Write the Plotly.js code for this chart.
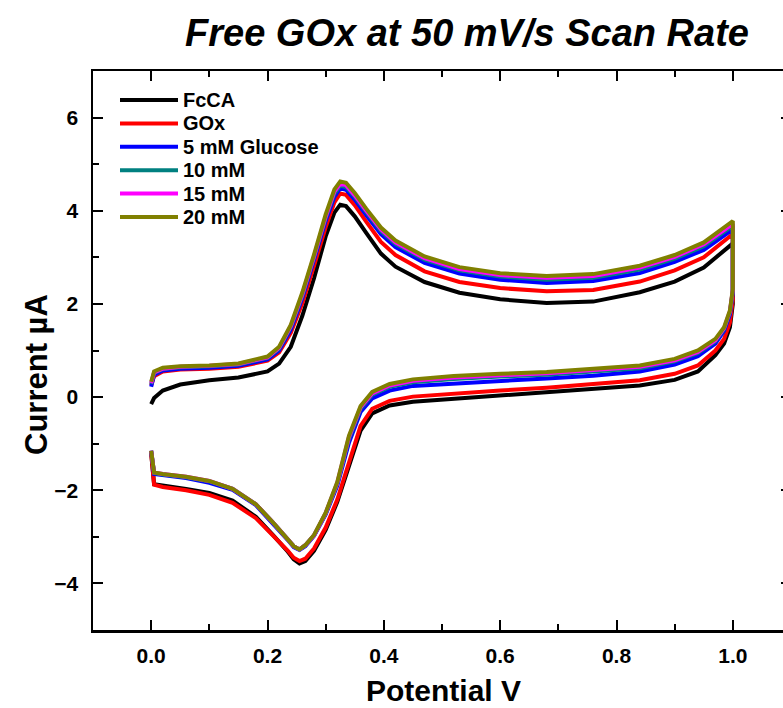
<!DOCTYPE html>
<html>
<head>
<meta charset="utf-8">
<script src="https://cdn.plot.ly/plotly-3.0.1.min.js"></script>
<style>
  html, body { margin: 0; padding: 0; overflow: hidden; background: #fff; }
  #chart { width: 800px; height: 708px; }
</style>
</head>
<body>
<div id="chart"></div>
<script>
// Cyclic voltammograms: forward sweep 0 -> 1.0 V, then reverse sweep 1.0 -> 0 V
const forwardPotential = [0, 0.005, 0.02, 0.05, 0.1, 0.15, 0.2, 0.22, 0.24, 0.26, 0.28, 0.3, 0.315, 0.325,
  0.335, 0.35, 0.37, 0.395, 0.42, 0.47, 0.53, 0.6, 0.68, 0.76, 0.84, 0.9, 0.95, 1.0];
const reversePotential = [1.0, 0.995, 0.985, 0.97, 0.94, 0.9, 0.84, 0.76, 0.68, 0.6, 0.52, 0.45, 0.41, 0.38,
  0.36, 0.34, 0.32, 0.3, 0.28, 0.265, 0.255, 0.245, 0.235, 0.21, 0.18, 0.14, 0.1, 0.06, 0.02, 0.005, 0];

const seriesNames = ['FcCA', 'GOx', '5 mM Glucose', '10 mM', '15 mM', '20 mM'];
const seriesColors = ['#000000', '#ff0000', '#0000ff', '#008080', '#ff00ff', '#808000'];

// Current (µA) on the forward sweep
const fcaForward = [-0.15, -0.02, 0.14, 0.27, 0.36, 0.42, 0.55, 0.72, 1.08, 1.75, 2.55, 3.45, 3.96, 4.13,
  4.1, 3.88, 3.52, 3.08, 2.8, 2.47, 2.24, 2.1, 2.02, 2.05, 2.25, 2.48, 2.78, 3.3];
const goxForward = [0.25, 0.45, 0.55, 0.59, 0.61, 0.65, 0.78, 0.96, 1.38, 2.02, 2.82, 3.65, 4.18, 4.37,
  4.34, 4.12, 3.76, 3.33, 3.05, 2.7, 2.47, 2.34, 2.27, 2.3, 2.48, 2.72, 3.0, 3.5];
const glc5Forward = [0.22, 0.48, 0.57, 0.61, 0.63, 0.67, 0.81, 1.0, 1.45, 2.13, 2.95, 3.78, 4.3, 4.48,
  4.45, 4.24, 3.9, 3.5, 3.22, 2.88, 2.65, 2.52, 2.45, 2.49, 2.66, 2.9, 3.16, 3.6];
const glc10Forward = [0.28, 0.52, 0.6, 0.64, 0.66, 0.7, 0.84, 1.04, 1.5, 2.18, 3.0, 3.84, 4.37, 4.54,
  4.51, 4.3, 3.97, 3.57, 3.29, 2.95, 2.72, 2.59, 2.52, 2.56, 2.74, 2.97, 3.24, 3.68];
const glc15Forward = [0.3, 0.53, 0.61, 0.65, 0.67, 0.71, 0.85, 1.06, 1.52, 2.21, 3.02, 3.87, 4.41, 4.58,
  4.55, 4.33, 4.0, 3.6, 3.32, 2.98, 2.75, 2.62, 2.56, 2.6, 2.78, 3.01, 3.28, 3.72];
const glc20Forward = [0.33, 0.55, 0.63, 0.66, 0.68, 0.72, 0.87, 1.08, 1.55, 2.25, 3.06, 3.92, 4.46, 4.63,
  4.6, 4.38, 4.04, 3.64, 3.36, 3.02, 2.79, 2.66, 2.6, 2.64, 2.82, 3.05, 3.32, 3.78];

// Current (µA) on the reverse sweep
const fcaReverse = [2.0, 1.5, 1.15, 0.9, 0.55, 0.37, 0.25, 0.18, 0.1, 0.04, -0.02, -0.1, -0.18, -0.35,
  -0.72, -1.5, -2.25, -2.85, -3.3, -3.52, -3.57, -3.48, -3.32, -2.97, -2.57, -2.22, -2.06, -1.97, -1.91, -1.87, -1.2];
const goxReverse = [2.1, 1.6, 1.25, 1.0, 0.68, 0.5, 0.36, 0.27, 0.2, 0.14, 0.08, 0.01, -0.08, -0.25,
  -0.62, -1.42, -2.2, -2.8, -3.25, -3.47, -3.52, -3.45, -3.3, -2.98, -2.6, -2.27, -2.1, -2.0, -1.93, -1.88, -1.2];
const glc5Reverse = [2.25, 1.78, 1.42, 1.15, 0.88, 0.7, 0.55, 0.46, 0.4, 0.35, 0.3, 0.24, 0.14, -0.03,
  -0.32, -0.98, -1.9, -2.52, -2.98, -3.2, -3.28, -3.22, -3.07, -2.72, -2.32, -1.99, -1.84, -1.74, -1.68, -1.65, -1.15];
const glc10Reverse = [2.28, 1.82, 1.46, 1.2, 0.95, 0.77, 0.62, 0.54, 0.48, 0.44, 0.39, 0.32, 0.22, 0.05,
  -0.25, -0.9, -1.86, -2.5, -2.97, -3.18, -3.27, -3.2, -3.05, -2.7, -2.3, -1.97, -1.81, -1.72, -1.66, -1.63, -1.15];
const glc15Reverse = [2.3, 1.84, 1.48, 1.22, 0.97, 0.79, 0.65, 0.57, 0.51, 0.47, 0.42, 0.35, 0.25, 0.08,
  -0.22, -0.86, -1.84, -2.49, -2.97, -3.18, -3.27, -3.2, -3.05, -2.7, -2.3, -1.97, -1.8, -1.71, -1.65, -1.62, -1.15];
const glc20Reverse = [2.32, 1.86, 1.5, 1.25, 1.0, 0.82, 0.68, 0.6, 0.54, 0.5, 0.45, 0.38, 0.28, 0.11,
  -0.19, -0.83, -1.82, -2.48, -2.96, -3.18, -3.27, -3.2, -3.05, -2.7, -2.3, -1.97, -1.8, -1.71, -1.65, -1.62, -1.15];

const forwardSets = [fcaForward, goxForward, glc5Forward, glc10Forward, glc15Forward, glc20Forward];
const reverseSets = [fcaReverse, goxReverse, glc5Reverse, glc10Reverse, glc15Reverse, glc20Reverse];

const potential = forwardPotential.concat(reversePotential);

const traces = seriesNames.map((name, i) => ({
  type: 'scatter',
  mode: 'lines',
  name: name,
  x: potential,
  y: forwardSets[i].concat(reverseSets[i]),
  line: { color: seriesColors[i], width: 4 },
  showlegend: false
}));

// Plot frame in pixels
const W = 800, H = 708;
const M = { l: 93, r: 9, t: 71, b: 78 };
const plotW = W - M.l - M.r, plotH = H - M.t - M.b;
const px = (x) => (x - M.l) / plotW;
const py = (y) => (H - M.b - y) / plotH;

const FONT = '"Liberation Sans", Arial, Helvetica, sans-serif';

// Key in the upper-left corner
const keyShapes = [];
const keyLabels = [];
seriesNames.forEach((name, i) => {
  const rowY = 100 + i * 23.4;
  keyShapes.push({
    type: 'line', xref: 'paper', yref: 'paper',
    x0: px(120), x1: px(178), y0: py(rowY), y1: py(rowY),
    line: { color: seriesColors[i], width: 4 }
  });
  keyLabels.push({
    xref: 'paper', yref: 'paper', x: px(181), y: py(rowY),
    xanchor: 'left', yanchor: 'middle', showarrow: false,
    text: name,
    font: { family: FONT, size: 20, color: '#000', weight: 'bold' }
  });
});

const axisCommon = {
  showline: true, linecolor: '#000', linewidth: 2.5,
  mirror: 'ticks', ticks: 'inside', ticklen: 10, tickwidth: 2, tickcolor: '#000',
  showgrid: false, zeroline: false,
  tickfont: { family: FONT, size: 21, color: '#000', weight: 'bold' }
};

const layout = {
  width: W, height: H,
  margin: M,
  paper_bgcolor: '#fff', plot_bgcolor: '#fff',
  showlegend: false,
  title: {
    text: 'Free GOx at 50 mV/s Scan Rate',
    xref: 'container', yref: 'container',
    x: 467 / W, xanchor: 'center',
    y: 1 - 33 / H, yanchor: 'middle',
    font: { family: FONT, size: 38, color: '#000', weight: 'bold', style: 'italic' }
  },
  xaxis: Object.assign({}, axisCommon, {
    range: [-0.1, 1.1], dtick: 0.2, tick0: 0, tickformat: '.1f',
    ticklabelstandoff: 5,
    minor: { dtick: 0.1, ticks: 'inside', ticklen: 6, tickwidth: 2, tickcolor: '#000', showgrid: false }
  }),
  yaxis: Object.assign({}, axisCommon, {
    range: [-5, 7], dtick: 2, tick0: 0,
    ticklabelstandoff: 8,
    minor: { dtick: 1, ticks: 'inside', ticklen: 6, tickwidth: 2, tickcolor: '#000', showgrid: false }
  }),
  shapes: keyShapes,
  annotations: keyLabels.concat([
    {
      xref: 'paper', yref: 'paper', x: px(443), y: 0, yshift: -60,
      xanchor: 'center', yanchor: 'middle', showarrow: false,
      text: 'Potential V',
      font: { family: FONT, size: 30, color: '#000', weight: 'bold' }
    },
    {
      xref: 'paper', yref: 'paper', x: 0, xshift: -57, y: py(375),
      xanchor: 'center', yanchor: 'middle', showarrow: false, textangle: -90,
      text: 'Current µA',
      font: { family: FONT, size: 31, color: '#000', weight: 'bold' }
    }
  ])
};

Plotly.newPlot('chart', traces, layout, { displayModeBar: false, staticPlot: true });
</script>
</body>
</html>
